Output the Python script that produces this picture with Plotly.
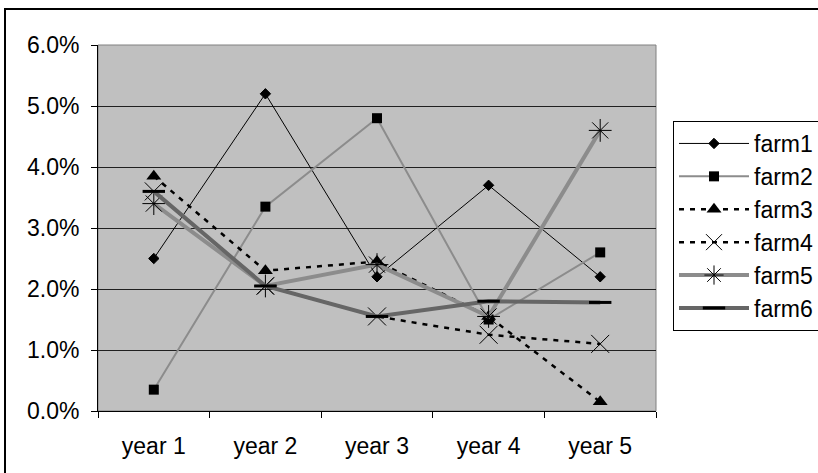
import plotly.graph_objects as go

years = ["year 1", "year 2", "year 3", "year 4", "year 5"]
farm1 = [0.025, 0.052, 0.022, 0.037, 0.022]
farm2 = [0.0035, 0.0335, 0.048, 0.015, 0.026]
farm3 = [0.0385, 0.023, 0.0245, 0.0155, 0.0015]
farm4 = [0.036, 0.0205, 0.0155, 0.0125, 0.011]
farm5 = [0.034, 0.0205, 0.024, 0.0155, 0.046]
farm6 = [0.036, 0.0205, 0.0155, 0.018, 0.0178]
y_ticks = [0, 0.01, 0.02, 0.03, 0.04, 0.05, 0.06]

FONT = "Liberation Sans, Arial, sans-serif"
FS = 23

fig = go.Figure()

def add(name, vals, lcolor, lwidth, dash, symbol, msize, mlw=1):
    fig.add_trace(go.Scatter(
        x=years, y=vals, name=name, mode="lines+markers", legendgroup=name,
        line=dict(color=lcolor, width=lwidth, dash=dash),
        marker=dict(symbol=symbol, size=msize, color="black",
                    line=dict(color="black", width=mlw)),
    ))

add("farm1", farm1, "black", 1, "solid", "diamond", 8)
add("farm2", farm2, "#8c8c8c", 2, "solid", "square", 10, 0)
add("farm3", farm3, "black", 2.5, "5px,6px", "triangle-up", 13, 0)
add("farm4", farm4, "black", 2.5, "5px,6px", "x-thin-open", 18, 1)
add("farm5", farm5, "#8c8c8c", 4, "solid", "asterisk-open", 19, 1)
add("farm6", farm6, "#666666", 4, "solid", "line-ew-open", 16, 3)

# plot area pixel geometry
L, R, T, B = 98, 656, 45, 411
W, H = R - L, B - T

shapes = [
    dict(type="rect", xref="paper", yref="paper", x0=0, x1=1, y0=0, y1=1,
         line=dict(color="#808080", width=1), layer="below"),
    dict(type="rect", xref="paper", yref="paper",
         x0=(5 - L) / W, x1=(830 - L) / W, y0=(B - 490) / H, y1=(B - 9) / H,
         line=dict(color="black", width=2), fillcolor="rgba(0,0,0,0)"),
]

fig.update_layout(
    width=818, height=473,
    margin=dict(l=L, r=818 - R, t=T, b=473 - B, autoexpand=False),
    paper_bgcolor="white", plot_bgcolor="#c0c0c0",
    font=dict(family=FONT, size=FS, color="black"),
    showlegend=True,
    legend=dict(
        x=(673 - L) / W, y=(B - 121) / H, xanchor="left", yanchor="top",
        bgcolor="white", bordercolor="black", borderwidth=1,
        font=dict(family=FONT, size=FS, color="black"),
        itemwidth=70, tracegroupgap=0,
    ),
    shapes=shapes,
)

fig.update_xaxes(
    type="category", range=[-0.5, 4.5],
    showline=True, linecolor="black", linewidth=1, mirror=False,
    ticks="outside", tickson="boundaries", ticklen=6, tickcolor="black",
    showgrid=False, zeroline=False, ticklabelstandoff=14,
    tickfont=dict(family=FONT, size=FS, color="black"),
)
fig.update_yaxes(
    range=[0, 0.06], tickvals=y_ticks, tickformat=".1%",
    showline=True, linecolor="black", linewidth=1,
    ticks="outside", ticklen=6, tickcolor="black", ticklabelstandoff=7,
    showgrid=True, gridcolor="#202020", gridwidth=1, zeroline=False,
    tickfont=dict(family=FONT, size=FS, color="black"),
)

fig.write_html(
    "out.html",
    config={"displayModeBar": False},
    post_script="document.body.style.margin='0';document.body.style.overflow='hidden';",
)
